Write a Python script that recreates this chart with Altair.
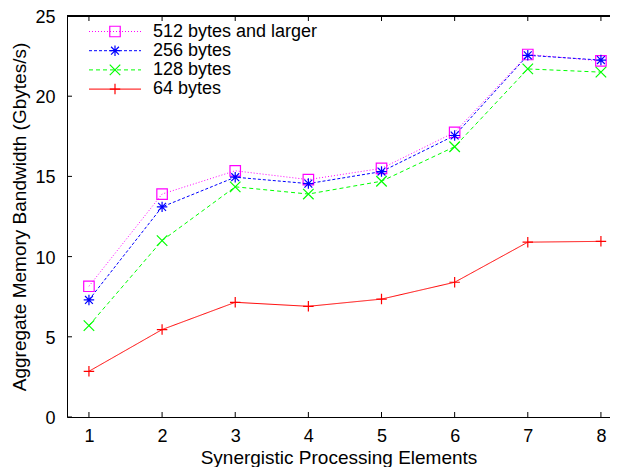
import altair as alt
import pandas as pd

# ---- data ----
spe = [1, 2, 3, 4, 5, 6, 7, 8]
series_names = ["512 bytes and larger", "256 bytes", "128 bytes", "64 bytes"]
bw_512 = [8.15, 13.9, 15.35, 14.8, 15.5, 17.75, 22.6, 22.2]
bw_256 = [7.3, 13.1, 14.95, 14.55, 15.3, 17.55, 22.55, 22.25]
bw_128 = [5.7, 11.0, 14.35, 13.9, 14.7, 16.85, 21.7, 21.5]
bw_64 = [2.85, 5.45, 7.15, 6.9, 7.35, 8.4, 10.9, 10.95]
x_ticks = [1, 2, 3, 4, 5, 6, 7, 8]
y_ticks = [0, 5, 10, 15, 20, 25]

# ---- styles ----
series_colors = ["#ff00ff", "#0000ff", "#00ff00", "#ff0000"]
series_dashes = [[1, 2], [3, 2], [4, 3], [1, 0]]
series_shapes = [
    "M-1,-1L1,-1L1,1L-1,1Z",
    "M-1,0L1,0M0,-1L0,1M-0.75,-0.75L0.75,0.75M-0.75,0.75L0.75,-0.75",
    "M-1,-1L1,1M-1,1L1,-1",
    "M-1,0L1,0M0,-1L0,1",
]

rows = []
for name, vals in zip(series_names, [bw_512, bw_256, bw_128, bw_64]):
    for s, v in zip(spe, vals):
        rows.append({"spe": s, "bw": v, "series": name})
df = pd.DataFrame(rows)

W, H = 543, 401
FONT = "Liberation Sans"

color = alt.Color("series:N", scale=alt.Scale(domain=series_names, range=series_colors), legend=None)
dash = alt.StrokeDash("series:N", scale=alt.Scale(domain=series_names, range=series_dashes), legend=None)
shape = alt.Shape("series:N", scale=alt.Scale(domain=series_names, range=series_shapes), legend=None)

xscale = alt.Scale(domain=[0.7, 8.124], nice=False, zero=False)
yscale = alt.Scale(domain=[0, 25], nice=False, zero=False)

x_axis = alt.Axis(
    values=x_ticks, format="d", ticks=False, grid=False,
    domainColor="black", domainWidth=1,
    labelFont=FONT, labelFontSize=18, labelColor="black", labelPadding=10,
    title="Synergistic Processing Elements", titleFont=FONT, titleFontSize=19,
    titleFontWeight="normal", titleColor="black", titleY=46,
    titleBaseline="alphabetic",
)
y_axis = alt.Axis(
    values=y_ticks, format="d", ticks=False, grid=False,
    domainColor="black", domainWidth=1,
    labelFont=FONT, labelFontSize=18, labelColor="black", labelPadding=12,
    labelOffset=1.5,
    title="Aggregate Memory Bandwidth (Gbytes/s)", titleFont=FONT, titleFontSize=19,
    titleFontWeight="normal", titleColor="black", titleAngle=270,
    titleX=-42, titleY=H / 2, titleAlign="center", titleBaseline="alphabetic",
)

base = alt.Chart(df)
lines = base.mark_line(strokeWidth=1).encode(
    x=alt.X("spe:Q", scale=xscale, axis=x_axis),
    y=alt.Y("bw:Q", scale=yscale, axis=y_axis),
    color=color, strokeDash=dash,
)
points = base.mark_point(filled=False, size=110, strokeWidth=1.2, opacity=1).encode(
    x="spe:Q", y="bw:Q", color=color, shape=shape,
)

xt = pd.DataFrame({"spe": x_ticks})
yt = pd.DataFrame({"bw": y_ticks})
tick_b = alt.Chart(xt).mark_rule(color="black", strokeWidth=1).encode(
    x="spe:Q", y=alt.value(H), y2=alt.value(H - 5))
tick_t = alt.Chart(xt).mark_rule(color="black", strokeWidth=1).encode(
    x="spe:Q", y=alt.value(0), y2=alt.value(5))
tick_l = alt.Chart(yt).mark_rule(color="black", strokeWidth=1).encode(
    y="bw:Q", x=alt.value(0), x2=alt.value(5))
top_line = alt.Chart(xt).mark_rule(color="black", strokeWidth=1).encode(
    x=alt.value(0), x2=alt.value(W), y=alt.value(0))

leg = pd.DataFrame({"series": series_names})
legend_layers = []
for i, name in enumerate(series_names):
    ry = 15.5 + 19.2 * i
    lc = alt.Chart(leg).transform_filter(alt.datum.series == name)
    legend_layers.append(lc.mark_rule(strokeWidth=1).encode(
        x=alt.value(22), x2=alt.value(74), y=alt.value(ry), color=color, strokeDash=dash))
    legend_layers.append(lc.mark_point(filled=False, size=110, strokeWidth=1.2, opacity=1).encode(
        x=alt.value(48), y=alt.value(ry), color=color, shape=shape))
    legend_layers.append(lc.mark_text(align="left", baseline="middle", font=FONT,
                                      fontSize=18, color="black").encode(
        x=alt.value(86), y=alt.value(ry), text="series:N"))

chart = alt.layer(lines, points, tick_b, tick_t, tick_l, top_line, *legend_layers).properties(
    width=W, height=H,
    autosize=alt.AutoSizeParams(type="none"),
    padding={"left": 59, "top": 8, "right": 0, "bottom": 50},
).configure_view(stroke=None)

chart.save("out.html", embed_options={"renderer": "svg", "actions": False})
